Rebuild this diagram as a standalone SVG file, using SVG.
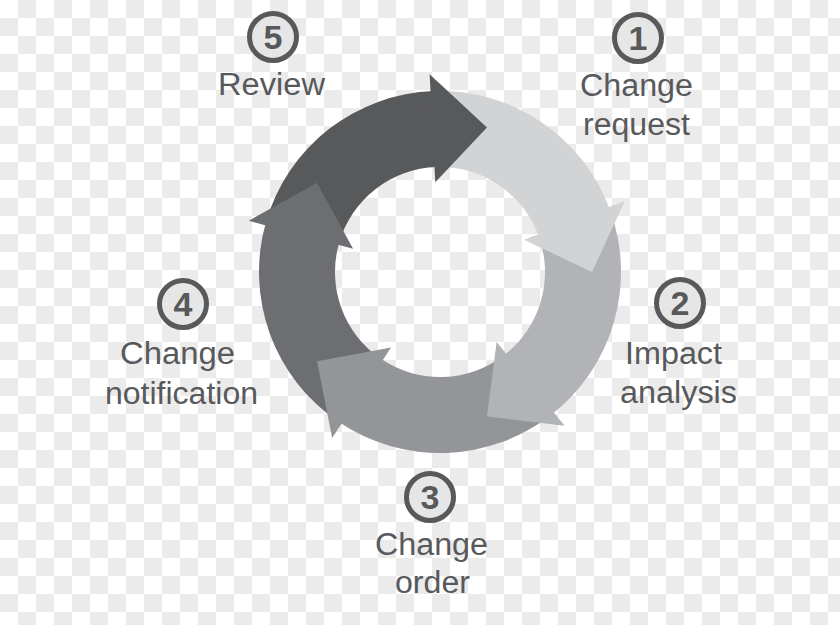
<svg xmlns="http://www.w3.org/2000/svg" width="840" height="625" viewBox="0 0 840 625">
<defs>
<pattern id="chk" width="36" height="36" patternUnits="userSpaceOnUse">
<rect width="36" height="36" fill="#ffffff"/>
<rect x="18" y="0" width="18" height="18" fill="#ebebeb"/>
<rect x="0" y="18" width="18" height="18" fill="#ebebeb"/>
</pattern>
<style>
.lbl{font-family:"Liberation Sans",Arial,sans-serif;font-size:31px;fill:#58595b;text-anchor:middle}
.num{font-family:"Liberation Sans",Arial,sans-serif;font-size:34px;font-weight:bold;fill:#58595b;text-anchor:middle}
.badge{fill:#e6e6e6;stroke:#58595b;stroke-width:5}
.a1{fill:#d1d3d4}.a2{fill:#b1b3b6}.a3{fill:#939598}.a4{fill:#6d6e71}.a5{fill:#58595b}
</style>
</defs>
<rect width="840" height="625" fill="url(#chk)"/>
<g id="connectors">
<path class="a1" d="M433.68,91.11 A181,181 0 0 1 610.09,210.10 L538.67,236.09 A105,105 0 0 0 436.34,167.06 Z"/>
<path class="a2" d="M610.09,210.10 A181,181 0 0 1 551.44,414.63 L504.65,354.74 A105,105 0 0 0 538.67,236.09 Z"/>
<path class="a3" d="M551.44,414.63 A181,181 0 0 1 338.78,422.05 L381.28,359.05 A105,105 0 0 0 504.65,354.74 Z"/>
<path class="a4" d="M338.78,422.05 A181,181 0 0 1 266.00,222.12 L339.06,243.06 A105,105 0 0 0 381.28,359.05 Z"/>
<path class="a5" d="M266.00,222.12 A181,181 0 0 1 433.68,91.11 L436.34,167.06 A105,105 0 0 0 339.06,243.06 Z"/>
<polygon class="a1" points="524.02,239.74 624.85,201.04 592,272"/>
<polygon class="a2" points="496.64,341.94 564.60,425.87 486.97,416.57"/>
<polygon class="a3" points="390.99,347.48 332.17,438.06 317.03,361.35"/>
<polygon class="a4" points="353.07,248.71 248.75,220.76 317.03,182.65"/>
<polygon class="a5" points="435.29,182.13 429.64,74.27 486.97,127.43"/>
</g>
<g id="step1">
<circle class="badge" cx="638" cy="38" r="23.5"/>
<text class="num" x="638" y="50">1</text>
<text class="lbl" x="636.5" y="96" textLength="113" lengthAdjust="spacingAndGlyphs">Change</text>
<text class="lbl" x="636.5" y="135" textLength="107" lengthAdjust="spacingAndGlyphs">request</text>
</g>
<g id="step2">
<circle class="badge" cx="680" cy="303" r="23.5"/>
<text class="num" x="680" y="315">2</text>
<text class="lbl" x="673.5" y="364" textLength="97" lengthAdjust="spacingAndGlyphs">Impact</text>
<text class="lbl" x="678.5" y="403" textLength="117" lengthAdjust="spacingAndGlyphs">analysis</text>
</g>
<g id="step3">
<circle class="badge" cx="430" cy="497" r="23.5"/>
<text class="num" x="430" y="509">3</text>
<text class="lbl" x="431.5" y="555" textLength="113" lengthAdjust="spacingAndGlyphs">Change</text>
<text class="lbl" x="432.5" y="593" textLength="75" lengthAdjust="spacingAndGlyphs">order</text>
</g>
<g id="step4">
<circle class="badge" cx="183" cy="304" r="23.5"/>
<text class="num" x="183" y="316">4</text>
<text class="lbl" x="177.5" y="364" textLength="115" lengthAdjust="spacingAndGlyphs">Change</text>
<text class="lbl" x="181.5" y="404" textLength="153" lengthAdjust="spacingAndGlyphs">notification</text>
</g>
<g id="step5">
<circle class="badge" cx="273" cy="37" r="23.5"/>
<text class="num" x="273" y="49">5</text>
<text class="lbl" x="271.5" y="95" textLength="107" lengthAdjust="spacingAndGlyphs">Review</text>
</g>
</svg>
